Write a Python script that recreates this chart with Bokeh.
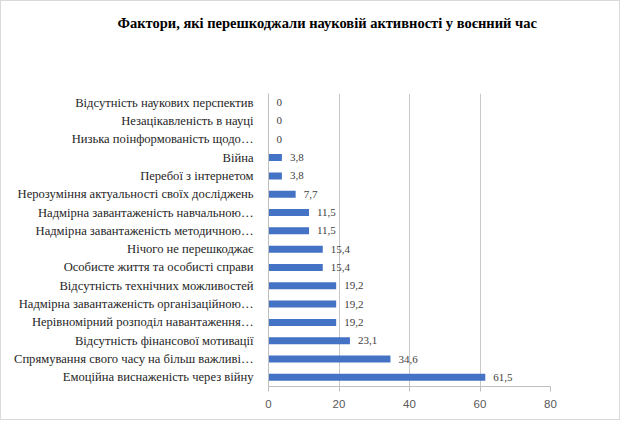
from bokeh.plotting import figure
from bokeh.models import ColumnDataSource, FactorRange, LabelSet, Title, FixedTicker
from bokeh.embed import file_html
from bokeh.resources import INLINE

title_text = "Фактори, які перешкоджали науковій активності у воєнний час"

categories = [
    "Відсутність наукових перспектив",
    "Незацікавленість в науці",
    "Низька поінформованість щодо…",
    "Війна",
    "Перебої з інтернетом",
    "Нерозуміння актуальності своїх досліджень",
    "Надмірна завантаженість навчальною…",
    "Надмірна завантаженість методичною…",
    "Нічого не перешкоджає",
    "Особисте життя та особисті справи",
    "Відсутність технічних можливостей",
    "Надмірна завантаженість організаційною…",
    "Нерівномірний розподіл навантаження…",
    "Відсутність фінансової мотивації",
    "Спрямування свого часу на більш важливі…",
    "Емоційна виснаженість через війну",
]
values = [0, 0, 0, 3.8, 3.8, 7.7, 11.5, 11.5, 15.4, 15.4, 19.2, 19.2, 19.2, 23.1, 34.6, 61.5]
x_ticks = [0, 20, 40, 60, 80]

labels = [f"{v:g}".replace(".", ",") for v in values]

src = ColumnDataSource(dict(cat=categories, val=values, lab=labels))

SERIF = "Liberation Serif"
SANS = "Liberation Sans"

p = figure(
    width=620, height=420,
    y_range=FactorRange(factors=list(reversed(categories))),
    x_range=(0, 80),
    output_backend="svg", toolbar_location=None,
    min_border_left=267, min_border_right=71,
    min_border_top=92, min_border_bottom=35,
)
p.styles = {"border": "1px solid #d9d9d9"}
p.outline_line_color = None

p.hbar(y="cat", right="val", left=0, height=0.38, source=src,
       fill_color="#4472C4", line_color=None)

p.add_layout(LabelSet(x="val", y="cat", text="lab", source=src,
                      x_offset=8, text_baseline="middle",
                      text_font=SANS, text_font_size="11px",
                      text_color="#404040"))

spacer = Title(text=" ", text_font_size="41px")
p.add_layout(spacer, "above")
p.add_layout(Title(text=title_text, align="left", offset=-151, text_font=SERIF,
                   text_font_size="14.5px", text_font_style="bold",
                   text_color="#000000"), "above")

p.xaxis.ticker = FixedTicker(ticks=x_ticks)
p.xaxis.axis_line_color = "#bfbfbf"
p.xaxis.major_tick_line_color = "#bfbfbf"
p.xaxis.major_tick_in = 0
p.xaxis.major_tick_out = 5
p.xaxis.minor_tick_line_color = None
p.xaxis.major_label_text_font = SANS
p.xaxis.major_label_text_font_size = "11.5px"
p.xaxis.major_label_text_color = "#595959"
p.xaxis.major_label_standoff = 8

p.yaxis.axis_line_color = "#bfbfbf"
p.yaxis.major_tick_line_color = None
p.yaxis.minor_tick_line_color = None
p.yaxis.major_label_text_font = SERIF
p.yaxis.major_label_text_font_size = "12.6px"
p.yaxis.major_label_text_color = "#262626"
p.yaxis.major_label_standoff = 9

p.ygrid.grid_line_color = None
p.xgrid.grid_line_color = "#c8c8c8"
p.xgrid.ticker = FixedTicker(ticks=x_ticks)

open("out.html", "w").write(file_html(p, INLINE))
